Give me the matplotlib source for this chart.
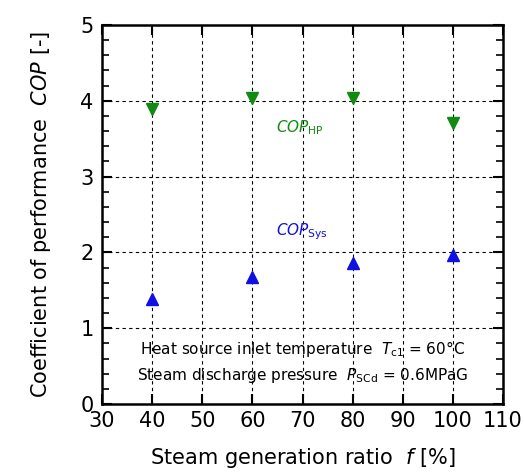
import numpy as np
import matplotlib
matplotlib.use("Agg")
import matplotlib.pyplot as plt
from matplotlib.ticker import MultipleLocator

# data
ratio = [40, 60, 80, 100]
cop_hp = [3.89, 4.04, 4.04, 3.71]
cop_sys = [1.38, 1.67, 1.86, 1.96]

plt.rcParams['font.family'] = ['DejaVu Sans']
plt.rcParams['mathtext.fontset'] = 'dejavusans'

fig = plt.figure(figsize=(5.24, 4.73), dpi=100)
ax = fig.add_axes([102 / 524, 1 - 404 / 473, 401 / 524, 379 / 473])

ax.plot(ratio, cop_hp, 'v', color='#118a11', ms=9, zorder=3)
ax.plot(ratio, cop_sys, '^', color='#1010e0', ms=9, zorder=3)

ax.set_xlim(30, 110)
ax.set_ylim(0, 5)
ax.xaxis.set_major_locator(MultipleLocator(10))
ax.yaxis.set_major_locator(MultipleLocator(1))
ax.yaxis.set_minor_locator(MultipleLocator(0.2))
ax.tick_params(which='both', direction='in', top=True, right=True, labelsize=15)
ax.tick_params(axis='x', pad=5)
ax.tick_params(axis='y', pad=6)
ax.tick_params(which='major', length=7, width=1.5)
ax.tick_params(which='minor', length=5, width=1.2)
ax.grid(True, which='major', color='black', linestyle=(0, (3, 3)), linewidth=0.8)
for s in ax.spines.values():
    s.set_linewidth(1.8)

ax.set_xlabel(r"Steam generation ratio  $f$ [%]", fontsize=15, labelpad=11)
ax.set_ylabel(r"Coefficient of performance  $COP$ [-]", fontsize=15, labelpad=20)

ax.text(64.8, 3.65, r"$COP_{\rm HP}$", color='#118a11', fontsize=11, ha='left', va='center')
ax.text(64.8, 2.27, r"$COP_{\rm Sys}$", color='#1010e0', fontsize=11, ha='left', va='center')

ax.text(70, 0.72, r"Heat source inlet temperature  $T_{\rm c1}$ = 60°C",
        fontsize=11, ha='center', va='center')
ax.text(70, 0.38, r"Steam discharge pressure  $P_{\rm SCd}$ = 0.6MPaG",
        fontsize=11, ha='center', va='center')

fig.savefig("out.png", dpi=100)
